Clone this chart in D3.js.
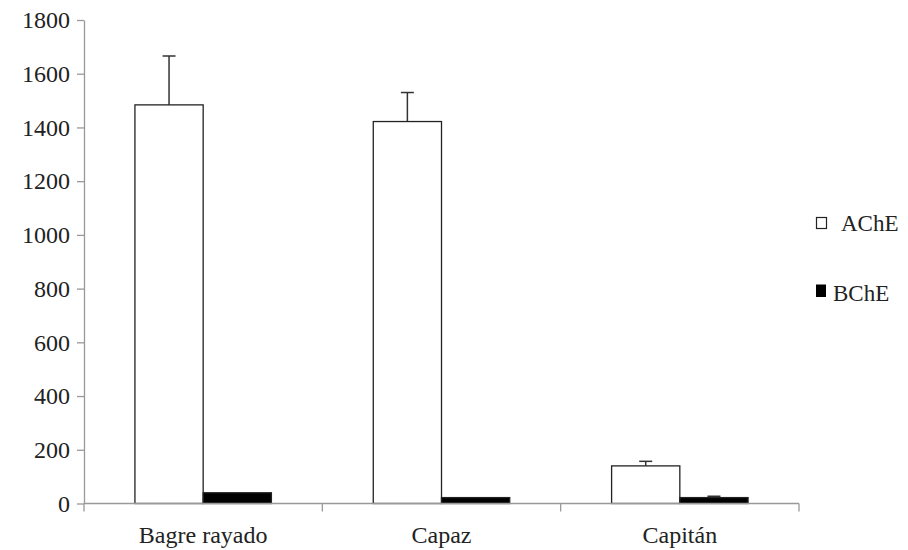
<!DOCTYPE html>
<html>
<head>
<meta charset="utf-8">
<script src="https://cdn.jsdelivr.net/npm/d3@7"></script>
</head>
<body style="margin:0;background:#fff">
<svg id="fig" width="908" height="550" style="display:block"></svg>
<script>
const categories = ["Bagre rayado", "Capaz", "Capitán"];
const seriesNames = ["AChE", "BChE"];
const acheValues = [1484, 1422, 140];
const acheErrors = [182, 108, 17];
const bcheValues = [40, 22, 22];
const bcheErrors = [0, 0, 5];
const yTicks = [0, 200, 400, 600, 800, 1000, 1200, 1400, 1600, 1800];

(function () {
const svg = d3.select("#fig");
const plotLeft = 84, plotRight = 799, plotTop = 20, plotBottom = 503.5;
const FONT = "Liberation Serif";

function serifText(sel, size) {
  sel.attr("font-family", FONT).attr("font-size", size)
     .style("font-family", FONT, "important").style("font-size", size + "px", "important");
  return sel;
}

const x = d3.scaleBand().domain(categories).range([plotLeft, plotRight]).paddingInner(0).paddingOuter(0);
const y = d3.scaleLinear().domain([0, 1800]).range([plotBottom, plotTop]);

const bw = x.bandwidth() * 0.2863;
const sub = d3.scaleBand().domain(seriesNames).range([0, 2 * bw]);
const offset = (x.bandwidth() - 2 * bw) / 2;

const axisColor = "#999";

// Y axis
const yAxis = svg.append("g").attr("transform", `translate(${plotLeft},0)`)
  .call(d3.axisLeft(y).tickValues(yTicks).tickSize(7).tickSizeOuter(0).tickFormat(d3.format("d")));
yAxis.attr("font-family", FONT).attr("font-size", 24);
yAxis.select(".domain").attr("stroke", axisColor).attr("stroke-width", 1.3);
yAxis.selectAll(".tick line").attr("stroke", axisColor).attr("stroke-width", 1.3);
serifText(yAxis.selectAll(".tick text").attr("x", -14).attr("fill", "#222"), 24);

// Series data
const series = [
  { name: "AChE", values: acheValues, errors: acheErrors, fill: "#fff" },
  { name: "BChE", values: bcheValues, errors: bcheErrors, fill: "#000" }
];

// Error bars (plus only)
series.forEach(s => {
  const g = svg.append("g");
  categories.forEach((c, i) => {
    if (!s.errors[i]) return;
    const cx = x(c) + offset + sub(s.name) + bw / 2;
    const y0 = y(s.values[i]);
    const y1 = y(s.values[i] + s.errors[i]);
    g.append("line").attr("x1", cx).attr("x2", cx).attr("y1", y0).attr("y2", y1)
      .attr("stroke", "#333").attr("stroke-width", 1.5);
    g.append("line").attr("x1", cx - 6.5).attr("x2", cx + 6.5).attr("y1", y1).attr("y2", y1)
      .attr("stroke", "#333").attr("stroke-width", 1.5);
  });
});

// Bars
series.forEach(s => {
  svg.append("g").selectAll("rect").data(categories).join("rect")
    .attr("x", c => x(c) + offset + sub(s.name))
    .attr("width", bw)
    .attr("y", (c, i) => y(s.values[i]))
    .attr("height", (c, i) => y(0) - y(s.values[i]))
    .attr("fill", s.fill)
    .attr("stroke", "#222")
    .attr("stroke-width", 1.3);
});

// X axis
const xAxisG = svg.append("g").attr("transform", `translate(0,${plotBottom})`);
xAxisG.append("line").attr("x1", plotLeft).attr("x2", plotRight).attr("y1", 0).attr("y2", 0)
  .attr("stroke", axisColor).attr("stroke-width", 1.3);
const boundaries = categories.map(c => x(c)).concat([x(categories[categories.length - 1]) + x.bandwidth()]);
xAxisG.selectAll("line.tk").data(boundaries).join("line").attr("class", "tk")
  .attr("x1", d => d).attr("x2", d => d).attr("y1", 0).attr("y2", 8)
  .attr("stroke", axisColor).attr("stroke-width", 1.3);
serifText(svg.append("g").selectAll("text").data(categories).join("text")
  .attr("x", c => x(c) + x.bandwidth() / 2)
  .attr("y", 543)
  .attr("text-anchor", "middle")
  .attr("fill", "#222")
  .text(c => c), 24);

// Legend
const legend = svg.append("g");
legend.append("rect").attr("x", 816.5).attr("y", 217.5).attr("width", 10).attr("height", 11)
  .attr("fill", "#fff").attr("stroke", "#222").attr("stroke-width", 1.2);
serifText(legend.append("text").attr("x", 841).attr("y", 231)
  .attr("fill", "#222").text(seriesNames[0]), 23);
legend.append("rect").attr("x", 816).attr("y", 284.5).attr("width", 10).attr("height", 12.5)
  .attr("fill", "#000");
serifText(legend.append("text").attr("x", 833).attr("y", 300.5)
  .attr("fill", "#222").text(seriesNames[1]), 23);
})();
</script>
</body>
</html>
